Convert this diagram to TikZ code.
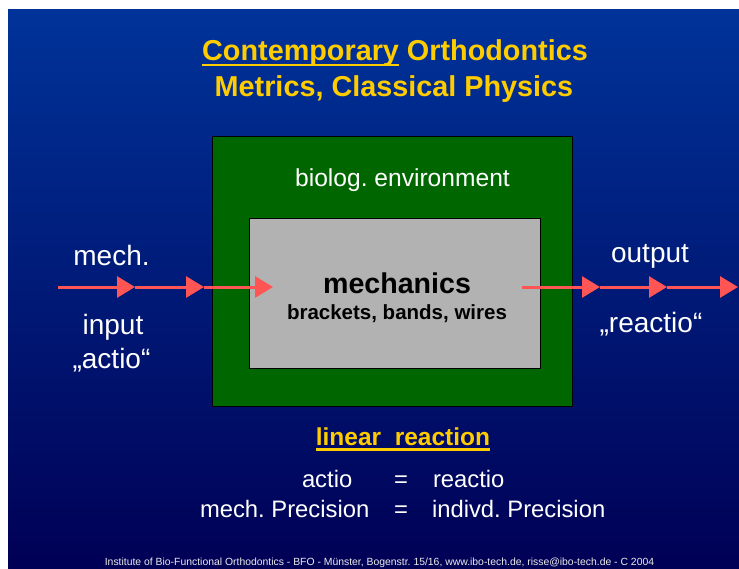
\documentclass[tikz,border=0pt]{standalone}
\usepackage{fontspec}
\setmainfont{Liberation Sans}
\usetikzlibrary{arrows.meta}
\definecolor{bgtop}{RGB}{0,51,153}
\definecolor{bgbot}{RGB}{0,0,85}
\definecolor{envgreen}{RGB}{0,102,0}
\definecolor{mechgray}{RGB}{178,178,178}
\definecolor{arrowred}{RGB}{255,85,85}
\definecolor{titleyellow}{RGB}{255,204,0}
\newcommand\myul[1]{\setbox0\hbox{#1}\rlap{\rule[-5.5bp]{\wd0}{2.2bp}}\box0\relax}
\frenchspacing
\tikzset{
  txt/.style={inner sep=0pt, outer sep=0pt, anchor=base, text=white},
  ttl/.style={txt, text=titleyellow, font=\fontsize{28.8bp}{30bp}\selectfont\bfseries},
  side/.style={txt, font=\fontsize{28bp}{30bp}\selectfont},
  eqtxt/.style={txt, anchor=base west, font=\fontsize{23.8bp}{25bp}\selectfont},
  boxnode/.style={draw=black, line width=0.9bp, inner sep=0pt, anchor=north west},
  flow/.style={draw=arrowred, line width=3bp, -{Triangle[length=18bp,width=21bp]}}
}
\begin{document}
\begin{tikzpicture}[x=1bp,y=-1bp]
\useasboundingbox (0,0) rectangle (739,569);
\fill[white] (0,0) rectangle (739,569);
\shade[top color=bgtop, bottom color=bgbot] (8,10) rectangle (739,569);

% title
\node[ttl] (title1) at (395,61) {\myul{Contemporary} Orthodontics};
\node[ttl] (title2) at (394,97) {Metrics, Classical Physics};

% boxes
\node[boxnode, fill=envgreen, minimum width=360bp, minimum height=270bp] (env) at (212,136) {};
\node[boxnode, fill=mechgray, minimum width=291bp, minimum height=150bp] (mech) at (249,218) {};
\node[txt, font=\fontsize{24.6bp}{26bp}\selectfont] (envlabel) at (402.5,187) {biolog. environment};
\node[txt, text=black, font=\fontsize{28.6bp}{30bp}\selectfont\bfseries] (mechlabel) at (397,293) {mechanics};
\node[txt, text=black, font=\fontsize{20.5bp}{22bp}\selectfont\bfseries] (mechsub) at (397,319) {brackets, bands, wires};

% input arrows
\coordinate (inS) at (58,287);
\coordinate (inA) at (135,287);
\coordinate (inB) at (204,287);
\coordinate (inC) at (273,287);
\draw[flow] (inS) -- (inA);
\draw[flow] (inA) -- (inB);
\draw[flow] (inB) -- (inC);

% output arrows
\coordinate (outS) at (522,287);
\coordinate (outA) at (600,287);
\coordinate (outB) at (667,287);
\coordinate (outC) at (738,287);
\draw[flow] (outS) -- (outA);
\draw[flow] (outA) -- (outB);
\draw[flow] (outB) -- (outC);

% side labels
\node[side] (mechin) at (111.5,265) {mech.};
\node[side] (inputlbl) at (113,334) {input};
\node[side] (actiolbl) at (111.5,368) {„actio“};
\node[side] (outputlbl) at (650,262) {output};
\node[side] (reactiolbl) at (651,332) {„reactio“};

% linear reaction
\node[txt, text=titleyellow, font=\fontsize{24.5bp}{26bp}\selectfont\bfseries] (linear) at (403,445) {\myul{linear\ \ reaction}};
\node[eqtxt] (eqA1) at (302,487) {actio};
\node[eqtxt] (eqA2) at (394,487) {=};
\node[eqtxt] (eqA3) at (433,487) {reactio};
\node[eqtxt] (eqB1) at (200,517) {mech. Precision};
\node[eqtxt] (eqB2) at (394,517) {=};
\node[eqtxt] (eqB3) at (432,517) {indivd. Precision};

% footer
\node[txt, text=white!92!black, font=\fontsize{10.4bp}{12bp}\selectfont] (footer) at (379.5,565.5) {Institute of Bio-Functional Orthodontics - BFO - Münster, Bogenstr. 15/16, www.ibo-tech.de, risse@ibo-tech.de - C 2004};
\end{tikzpicture}
\end{document}
